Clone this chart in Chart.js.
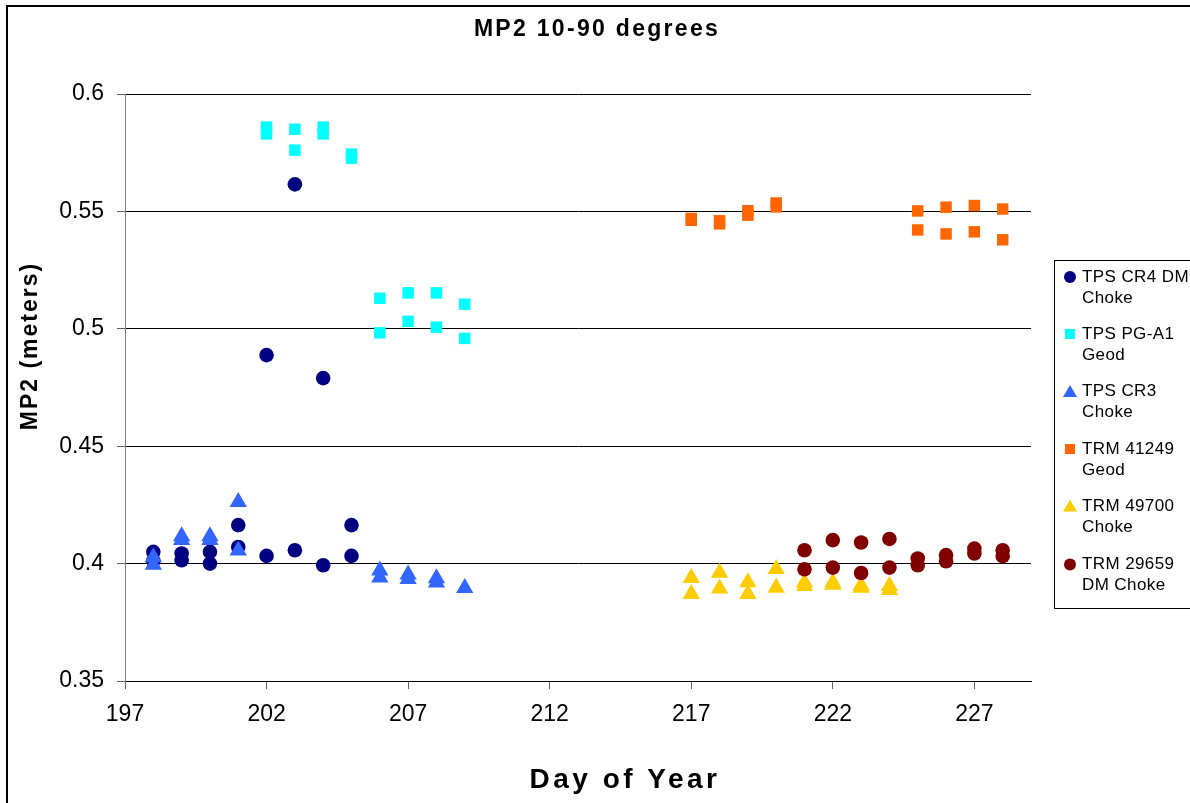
<!DOCTYPE html>
<html>
<head>
<meta charset="utf-8">
<script src="https://cdn.jsdelivr.net/npm/chart.js@4/dist/chart.umd.min.js"></script>
<style>
html,body{margin:0;padding:0;background:#fff;}
#c{display:block;}
</style>
</head>
<body>
<canvas id="c" width="1190" height="803"></canvas>
<script>
// ---- data ----
const chartTitle = 'MP2 10-90 degrees';
const xTitle = 'Day of Year';
const yTitle = 'MP2 (meters)';
const xTicks = [197, 202, 207, 212, 217, 222, 227];
const yTicks = [0.35, 0.4, 0.45, 0.5, 0.55, 0.6];
const yTickLabels = ['0.35', '0.4', '0.45', '0.5', '0.55', '0.6'];
const seriesLabels = [
  ['TPS CR4 DM', 'Choke'],
  ['TPS PG-A1', 'Geod'],
  ['TPS CR3', 'Choke'],
  ['TRM 41249', 'Geod'],
  ['TRM 49700', 'Choke'],
  ['TRM 29659', 'DM Choke']
];
const cr4Days = [198,198,199,199,200,200,201,201,202,202,203,203,204,204,205,205];
const cr4Vals = [0.4050,0.4012,0.4043,0.4014,0.4050,0.4000,0.4164,0.4071,0.4888,0.4033,0.5615,0.4057,0.4790,0.3993,0.4164,0.4033];
const pgDays = [202,202,203,203,204,204,205,205,206,206,207,207,208,208,209,209];
const pgVals = [0.5859,0.5830,0.5850,0.5761,0.5859,0.5830,0.5744,0.5727,0.5130,0.4983,0.5153,0.5032,0.5153,0.5007,0.5105,0.4959];
const cr3Days = [198,198,199,199,200,200,201,201,206,206,207,207,208,208,209];
const cr3Vals = [0.4027,0.3995,0.4117,0.4101,0.4117,0.4101,0.4262,0.4056,0.3971,0.3941,0.3954,0.3934,0.3938,0.3920,0.3896];
const trm41Days = [217,217,218,218,219,219,220,220,225,225,226,226,227,227,228,228];
const trm41Vals = [0.5470,0.5462,0.5460,0.5447,0.5503,0.5484,0.5536,0.5519,0.5502,0.5421,0.5518,0.5404,0.5525,0.5413,0.5510,0.5379];
const trm49Days = [217,217,218,218,219,219,220,220,221,221,222,222,223,223,224,224];
const trm49Vals = [0.3939,0.3870,0.3961,0.3894,0.3921,0.3870,0.3977,0.3897,0.3919,0.3905,0.3920,0.3910,0.3907,0.3897,0.3905,0.3888];
const trm29Days = [221,221,222,222,223,223,224,224,225,225,226,226,227,227,228,228];
const trm29Vals = [0.4057,0.3976,0.4100,0.3983,0.4090,0.3960,0.4105,0.3983,0.4022,0.3993,0.4036,0.4010,0.4064,0.4043,0.4057,0.4032];

const colors = ['#000080', '#00FFFF', '#3366FF', '#FF6600', '#FFCC00', '#800000'];
const styles = ['circle', 'rect', 'triangle', 'rect', 'triangle', 'circle'];
const radii = [7.3, 8.1, 10, 8.1, 10, 7.3];

const toPts = (xs, ys) => xs.map((x, i) => ({x: x, y: ys[i]}));
const seriesData = [
  toPts(cr4Days, cr4Vals), toPts(pgDays, pgVals), toPts(cr3Days, cr3Vals),
  toPts(trm41Days, trm41Vals), toPts(trm49Days, trm49Vals), toPts(trm29Days, trm29Vals)
];

const FONT = '"Liberation Sans", Arial, Helvetica, sans-serif';

const decor = {
  id: 'decor',
  afterDraw(chart) {
    const ctx = chart.ctx;
    ctx.save();
    ctx.fillStyle = '#000';
    // outer frame (left + top)
    ctx.fillRect(6, 5, 2, 803);
    ctx.fillRect(6, 5, 1190, 2);
    // title
    ctx.textAlign = 'center';
    ctx.textBaseline = 'middle';
    ctx.font = 'bold 23px ' + FONT;
    ctx.letterSpacing = '2.3px';
    ctx.fillText(chartTitle, 597, 30);
    // x title
    ctx.font = 'bold 28px ' + FONT;
    ctx.letterSpacing = '3.5px';
    ctx.fillText(xTitle, 625, 780);
    // y title
    ctx.font = 'bold 23px ' + FONT;
    ctx.letterSpacing = '2px';
    ctx.save();
    ctx.translate(31, 346);
    ctx.rotate(-Math.PI / 2);
    ctx.fillText(yTitle, 0, 0);
    ctx.restore();
    // legend
    ctx.lineWidth = 1;
    ctx.strokeStyle = '#000';
    ctx.strokeRect(1054.5, 260.5, 140, 348);
    const itemY = [277, 334, 391.5, 449, 506, 564.5];
    ctx.font = '17px ' + FONT;
    ctx.letterSpacing = '0.4px';
    ctx.textAlign = 'left';
    for (let i = 0; i < seriesLabels.length; i++) {
      const y = itemY[i];
      const x = 1070;
      ctx.fillStyle = colors[i];
      ctx.beginPath();
      if (styles[i] === 'circle') {
        ctx.arc(x, y, 6, 0, Math.PI * 2);
      } else if (styles[i] === 'rect') {
        ctx.rect(x - 5, y - 5, 10, 10);
      } else {
        ctx.moveTo(x, y - 6.5);
        ctx.lineTo(x + 7, y + 5.5);
        ctx.lineTo(x - 7, y + 5.5);
        ctx.closePath();
      }
      ctx.fill();
      ctx.fillStyle = '#000';
      ctx.fillText(seriesLabels[i][0], 1082, y);
      ctx.fillText(seriesLabels[i][1], 1082, y + 21);
    }
    ctx.restore();
  }
};

new Chart(document.getElementById('c'), {
  type: 'scatter',
  data: {
    datasets: seriesData.map((d, i) => ({
      label: seriesLabels[i].join(' '),
      data: d,
      pointStyle: styles[i],
      pointRadius: radii[i],
      pointHoverRadius: radii[i],
      backgroundColor: colors[i],
      borderColor: colors[i],
      borderWidth: 0,
      order: 6 - i
    }))
  },
  options: {
    responsive: false,
    animation: false,
    devicePixelRatio: 1,
    layout: { padding: { top: 94, right: 159, left: 0, bottom: 0 } },
    plugins: { legend: { display: false }, title: { display: false }, tooltip: { enabled: false } },
    scales: {
      x: {
        type: 'linear',
        min: 197, max: 229,
        afterBuildTicks: s => { s.ticks = xTicks.map(v => ({value: v})); },
        afterFit: s => { s.height = 122; },
        grid: { drawOnChartArea: false, drawTicks: true, tickLength: 8, tickColor: '#606060' },
        border: { color: '#000', width: 1 },
        ticks: { color: '#000', font: { family: FONT, size: 23 }, padding: 12, maxRotation: 0, autoSkip: false }
      },
      y: {
        type: 'linear',
        min: 0.35, max: 0.6,
        afterBuildTicks: s => { s.ticks = yTicks.map(v => ({value: v})); },
        afterFit: s => { s.width = 125; },
        grid: { color: '#000', lineWidth: 1, drawTicks: true, tickLength: 8, tickColor: '#606060' },
        border: { color: '#808080', width: 1 },
        ticks: {
          color: '#000', font: { family: FONT, size: 23 }, padding: 13, autoSkip: false,
          callback: v => { const k = yTicks.findIndex(t => Math.abs(t - v) < 1e-9); return k >= 0 ? yTickLabels[k] : ''; }
        }
      }
    }
  },
  plugins: [decor]
});
</script>
</body>
</html>
